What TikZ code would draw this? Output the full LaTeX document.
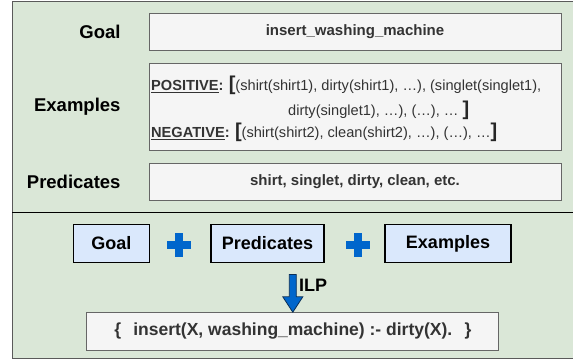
\documentclass[tikz,border=0pt]{standalone}
\usepackage{fontspec}
\setmainfont{Liberation Sans}
\usetikzlibrary{calc}
\definecolor{bggreen}{HTML}{DAE7D7}
\definecolor{framegray}{HTML}{5A5A5A}
\definecolor{fieldgray}{HTML}{F5F5F5}
\definecolor{fieldline}{HTML}{666666}
\definecolor{txtgray}{HTML}{333333}
\definecolor{partblue}{HTML}{DAE8FC}
\definecolor{plusblue}{HTML}{0066CC}
\definecolor{arrowline}{HTML}{0B2F57}
\tikzset{
    rowlabel/.style={anchor=east, inner sep=0pt, font=\fontsize{18.5}{20}\selectfont\bfseries},
    field/.style={draw=fieldline, fill=fieldgray, text=txtgray, minimum width=412pt, line width=0.9pt},
    exline/.style={anchor=west, inner sep=0pt, text=txtgray, font=\fontsize{14.6}{16}\selectfont},
    part/.style={draw=black, fill=partblue, line width=1.6pt, minimum height=38pt, font=\fontsize{18}{20}\selectfont\bfseries},
}
\newcommand{\bigbr}[1]{{\color{black!85}\fontsize{20}{20}\selectfont\bfseries #1}}
\begin{document}
\begin{tikzpicture}[x=1pt, y=-1pt]
    \useasboundingbox (0,0) rectangle (573,360);
    \filldraw[fill=bggreen, draw=framegray, line width=1pt] (12.3,1.3) rectangle (580,358.5);
    \draw[line width=1.5pt] (12.3,212.7) -- (573,212.7);

    \node[rowlabel] (lgoal) at (120.7,32) {Goal};
    \node[rowlabel] (lex) at (120.7,107) {Examples};
    \node[rowlabel] (lpred) at (120.7,182) {Predicates};

    \node[field, minimum height=37.4pt, font=\fontsize{15}{17}\selectfont\bfseries] (goalbox) at (355,32) {insert\_washing\_machine};
    \node[field, minimum height=87.4pt] (exbox) at (355,106.8) {};
    \node[field, minimum height=37.7pt, font=\fontsize{15}{17}\selectfont\bfseries] (predbox) at (355,182) {shirt, singlet, dirty, clean, etc.};

    \node[exline] (pos) at (151,85) {\underline{\textbf{POSITIVE}}\textbf{:} \bigbr{[}(shirt(shirt1), dirty(shirt1), …), (singlet(singlet1),};
    \node[exline] (posb) at (288,110) {dirty(singlet1), …), (…), … \bigbr{]}};
    \node[exline] (neg) at (151,132.7) {\underline{\textbf{NEGATIVE}}\textbf{:} \bigbr{[}(shirt(shirt2), clean(shirt2), …), (…), …\bigbr{]}};

    \node[part, minimum width=76pt] (pgoal) at (111.3,243.5) {Goal};
    \node[part, minimum width=113pt] (ppred) at (267.5,243.5) {Predicates};
    \node[part, minimum width=126pt] (pex) at (448,243.5) {Examples};

    \coordinate (plusa) at (178.7,244.5);
    \coordinate (plusb) at (358.3,244.5);
    \foreach \p in {plusa,plusb} {
        \fill[plusblue] ($(\p)+(-12,-4)$) rectangle ($(\p)+(12,4)$);
        \fill[plusblue] ($(\p)+(-4,-12)$) rectangle ($(\p)+(4,12)$);
    }

    \node[field, minimum height=37.3pt, font=\fontsize{17.5}{19}\selectfont\bfseries] (res) at (292.8,331.3)
        {\{\hspace{0.7em}insert(X, washing\_machine) :- dirty(X).\hspace{0.7em}\}};

    \filldraw[fill=plusblue, draw=arrowline, line width=0.8pt]
        ($(res.north)+(-3.5,-37.7)$) -- ($(res.north)+(-3.5,-15.4)$) -- ($(res.north)+(-10,-15.4)$)
        -- (res.north) -- ($(res.north)+(10,-15.4)$) -- ($(res.north)+(3.5,-15.4)$)
        -- ($(res.north)+(3.5,-37.7)$) -- cycle;
    \node[anchor=west, inner sep=0pt, font=\fontsize{18}{20}\selectfont\bfseries] (ilp) at (299,285) {ILP};
\end{tikzpicture}
\end{document}
